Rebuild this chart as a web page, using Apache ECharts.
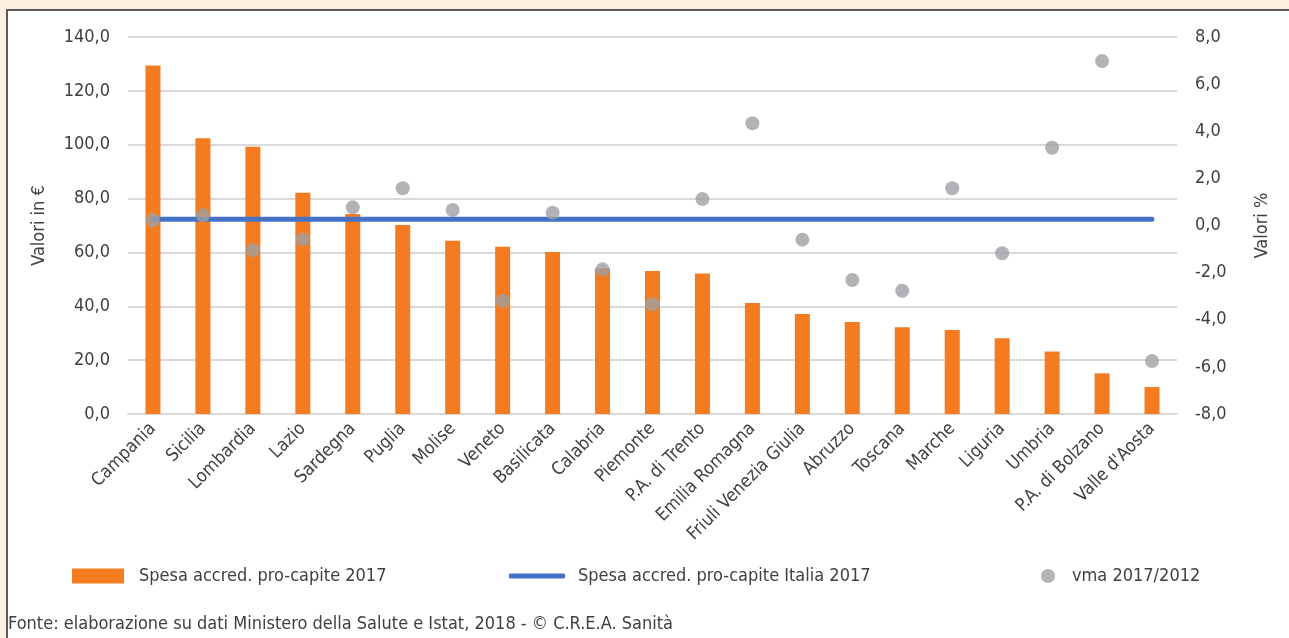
<!DOCTYPE html>
<html>
<head>
<meta charset="utf-8">
<script src="https://cdn.jsdelivr.net/npm/echarts@6/dist/echarts.min.js"></script>
<style>
html,body{margin:0;padding:0;background:#fff;}
#chart{width:1289px;height:638px;}
</style>
</head>
<body>
<div id="chart"></div>
<script>
const categories = ['Campania','Sicilia','Lombardia','Lazio','Sardegna','Puglia','Molise','Veneto','Basilicata','Calabria','Piemonte','P.A. di Trento','Emilia Romagna','Friuli Venezia Giulia','Abruzzo','Toscana','Marche','Liguria','Umbria','P.A. di Bolzano',"Valle d'Aosta"];
const spesa = [129.4,102.4,99.2,82.2,74.3,70.2,64.3,62.1,60.2,54.1,53.1,52.2,41.2,37.1,34.2,32.2,31.2,28.1,23.2,15.1,10.0];
const spesaItalia = 72.3;
const vma = [0.22,0.43,-1.05,-0.59,0.77,1.58,0.66,-3.2,0.54,-1.86,-3.34,1.12,4.34,-0.60,-2.31,-2.77,1.58,-1.18,3.30,6.98,-5.75];
const seriesNames = ['Spesa accred. pro-capite 2017','Spesa accred. pro-capite Italia 2017','vma 2017/2012'];
const leftAxisName = 'Valori in €';
const rightAxisName = 'Valori %';
const sourceText = 'Fonte: elaborazione su dati Ministero della Salute e Istat, 2018 - © C.R.E.A. Sanità';

const FONT = "'DejaVu Sans Condensed','Liberation Sans Narrow',sans-serif";
const FS = 18;
const TXT = '#404040';
const fmt = v => v.toFixed(1).replace('.', ',');

const chart = echarts.init(document.getElementById('chart'), null, {renderer:'canvas'});
chart.setOption({
  backgroundColor:'#ffffff',
  animation:false,
  textStyle:{fontFamily:FONT,color:TXT},
  graphic:[
    {type:'rect',left:0,top:0,shape:{width:1289,height:9},style:{fill:'#fdeee0'},silent:true},
    {type:'rect',left:0,top:0,shape:{width:6,height:638},style:{fill:'#fdeee0'},silent:true},
    {type:'rect',left:6,top:9,shape:{width:1283,height:2},style:{fill:'#595959'},silent:true},
    {type:'rect',left:6,top:9,shape:{width:2,height:629},style:{fill:'#595959'},silent:true},
    {type:'text',left:8,top:615,style:{text:sourceText,font:FS+'px '+FONT,fill:TXT}}
  ],
  grid:{left:128,right:112,top:37,bottom:224,containLabel:false},
  legend:[
    {left:67,top:562,data:[seriesNames[0]],icon:'rect',itemWidth:52,itemHeight:15,
     textStyle:{fontSize:FS,color:TXT,fontFamily:FONT,padding:[0,0,0,10]}},
    {left:504,top:562,data:[{name:seriesNames[1],icon:'roundRect'}],itemWidth:56,itemHeight:5,
     textStyle:{fontSize:FS,color:TXT,fontFamily:FONT,padding:[0,0,0,8]}},
    {left:1036,top:562,data:[seriesNames[2]],icon:'circle',itemWidth:14,itemHeight:14,
     textStyle:{fontSize:FS,color:TXT,fontFamily:FONT,padding:[0,0,0,12]}}
  ],
  xAxis:{
    type:'category',data:categories,
    axisLine:{show:true,lineStyle:{color:'#d9d9d9',width:2}},
    axisTick:{show:false},
    axisLabel:{rotate:45,interval:0,fontSize:FS,color:TXT,fontFamily:FONT,margin:12}
  },
  yAxis:[
    {type:'value',min:0,max:140,interval:20,position:'left',
     name:leftAxisName,nameLocation:'middle',nameGap:80,nameRotate:90,
     nameTextStyle:{fontSize:FS,color:TXT,fontFamily:FONT},
     axisLine:{show:false},axisTick:{show:false},
     axisLabel:{formatter:fmt,fontSize:FS,color:TXT,fontFamily:FONT,margin:18},
     splitLine:{lineStyle:{color:'#d9d9d9',width:2}}},
    {type:'value',min:-8,max:8,interval:2,position:'right',
     name:rightAxisName,nameLocation:'middle',nameGap:76,nameRotate:90,
     nameTextStyle:{fontSize:FS,color:TXT,fontFamily:FONT},
     axisLine:{show:false},axisTick:{show:false},
     axisLabel:{formatter:fmt,fontSize:FS,color:TXT,fontFamily:FONT,margin:18},
     splitLine:{show:false}}
  ],
  series:[
    {name:seriesNames[0],type:'bar',data:spesa,barWidth:15,yAxisIndex:0,
     itemStyle:{color:'#f47b20'},z:2},
    {name:seriesNames[1],type:'line',data:categories.map(()=>spesaItalia),yAxisIndex:0,
     symbol:'none',lineStyle:{color:'#4472c4',width:5,cap:'round'},itemStyle:{color:'#4472c4'},z:3},
    {name:seriesNames[2],type:'scatter',data:vma,yAxisIndex:1,symbol:'circle',symbolSize:14,
     itemStyle:{color:'#9fa0a4'},z:4}
  ]
});
</script>
</body>
</html>
